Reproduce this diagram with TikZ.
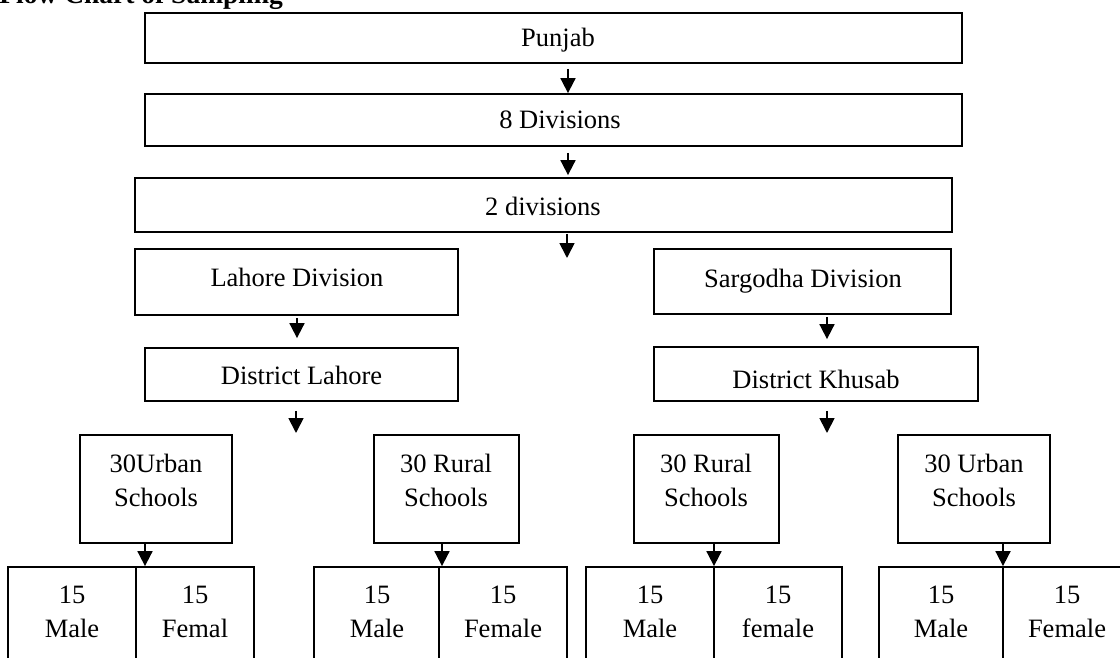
\documentclass[tikz,border=0pt]{standalone}
\usepackage{fontspec}
\setmainfont{Liberation Serif}
\usetikzlibrary{arrows.meta}
\newcommand\bx[5]{\node[box, minimum width={#4-#2}, minimum height={#5-#3}] (#1) at ({(#2+#4)/2},{(#3+#5)/2}) {};}
\begin{document}
\begin{tikzpicture}[x=1pt,y=-1pt,
  box/.style={draw, line width=1.8pt, inner sep=0pt, rectangle},
  txt/.style={anchor=base, inner sep=0pt, font=\fontsize{26.5}{34}\selectfont, align=center},
  arr/.style={line width=1.8pt, -{Triangle[length=15pt,width=15pt]}}]
\useasboundingbox (0,0) rectangle (1120,658);
\fill[white] (0,0) rectangle (1120,658);
% title
\node[anchor=base east, inner sep=0pt, font=\bfseries\fontsize{27.5}{30}\selectfont] (title) at (283,4) {Flow Chart of Sampling};
% boxes
\bx{punjab}{145}{13}{962}{63}
\bx{divA}{145}{94}{962}{146}
\bx{divB}{135}{178}{952}{232}
\bx{lahdiv}{135}{249}{458}{315}
\bx{sardiv}{654}{249}{951}{314}
\bx{lahdist}{145}{348}{458}{401}
\bx{khudist}{654}{347}{978}{401}
\bx{urbL}{80}{435}{232}{543}
\bx{rurL}{374}{435}{519}{543}
\bx{rurR}{634}{435}{779}{543}
\bx{urbR}{898}{435}{1050}{543}
\bx{cAm}{8}{567}{136}{680}
\bx{cAf}{136}{567}{254}{680}
\bx{cBm}{314}{567}{439}{680}
\bx{cBf}{439}{567}{567}{680}
\bx{cCm}{586}{567}{714}{680}
\bx{cCf}{714}{567}{842}{680}
\bx{cDm}{879}{567}{1003}{680}
\bx{cDf}{1003}{567}{1131}{680}
% texts (two-line nodes are anchored at the baseline of their last line)
\node[txt] (tPunjab) at (558,47) {Punjab};
\node[txt] (tDivA) at (560,129) {8 Divisions};
\node[txt] (tDivB) at (543,215) {2 divisions};
\node[txt] (tLahDiv) at (297,286) {Lahore Division};
\node[txt] (tSarDiv) at (803,287) {Sargodha Division};
\node[txt] (tLahDist) at (301.5,384) {District Lahore};
\node[txt] (tKhuDist) at (816,388) {District Khusab};
\node[txt] (tUrbL) at (156,506) {30Urban\\Schools};
\node[txt] (tRurL) at (446,506) {30 Rural\\Schools};
\node[txt] (tRurR) at (706,506) {30 Rural\\Schools};
\node[txt] (tUrbR) at (974,506) {30 Urban\\Schools};
\node[txt] (tAm) at (72,637) {15\\Male};
\node[txt] (tAf) at (195,637) {15\\Femal};
\node[txt] (tBm) at (377,637) {15\\Male};
\node[txt] (tBf) at (503,637) {15\\Female};
\node[txt] (tCm) at (650,637) {15\\Male};
\node[txt] (tCf) at (778,637) {15\\female};
\node[txt] (tDm) at (941,637) {15\\Male};
\node[txt] (tDf) at (1067,637) {15\\Female};
% arrow columns
\coordinate (xTop) at (568,0);
\coordinate (xMid) at (567,258);
\coordinate (xLah) at (297,0);
\coordinate (xSar) at (827,0);
\coordinate (eLah) at (296,433);
\coordinate (eKhu) at (827,433);
\coordinate (xA) at (145,0);
\coordinate (xB) at (442,0);
\coordinate (xC) at (714,0);
\coordinate (xD) at (1003,0);
% arrows
\draw[arr, shorten <=5pt] (punjab.south -| xTop) -- (divA.north -| xTop);
\draw[arr, shorten <=6pt, shorten >=2pt] (divA.south -| xTop) -- (divB.north -| xTop);
\draw[arr, shorten <=1pt] (divB.south -| xMid) -- (xMid);
\draw[arr, shorten <=2pt, shorten >=9pt] (lahdiv.south -| xLah) -- (lahdist.north -| xLah);
\draw[arr, shorten <=2pt, shorten >=7pt] (sardiv.south -| xSar) -- (khudist.north -| xSar);
\draw[arr, shorten <=9pt] (lahdist.south -| eLah) -- (eLah);
\draw[arr, shorten <=9pt] (khudist.south -| eKhu) -- (eKhu);
\draw[arr] (urbL.south -| xA) -- (cAm.north -| xA);
\draw[arr] (rurL.south -| xB) -- (cBm.north -| xB);
\draw[arr] (rurR.south -| xC) -- (cCm.north -| xC);
\draw[arr] (urbR.south -| xD) -- (cDm.north -| xD);
\end{tikzpicture}
\end{document}
